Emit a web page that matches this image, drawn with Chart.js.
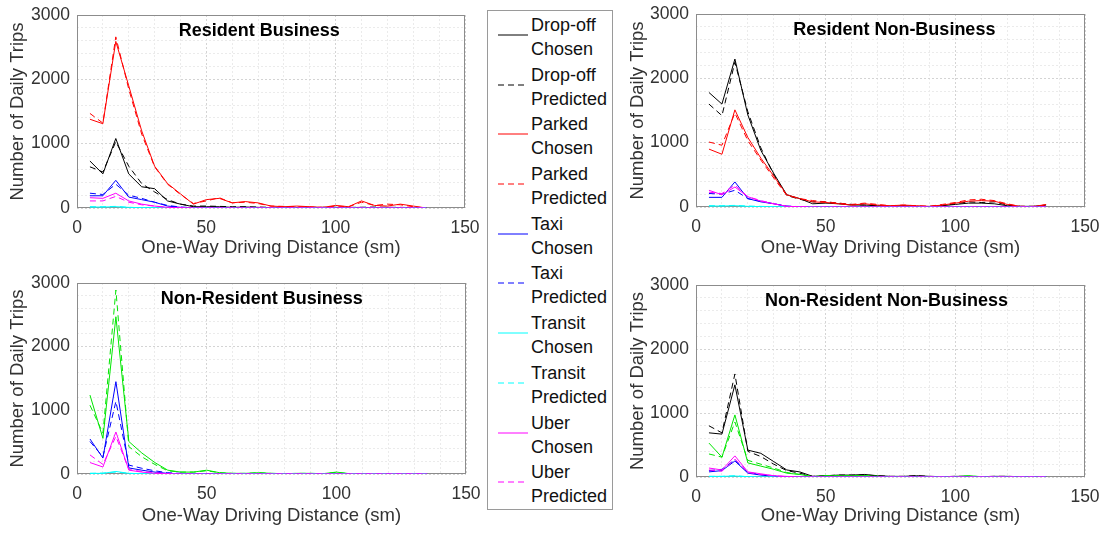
<!DOCTYPE html>
<html>
<head>
<meta charset="utf-8">
<script src="https://cdn.jsdelivr.net/npm/chart.js@4"></script>
<style>
  body { margin: 0; background: #fff; width: 1107px; height: 533px; overflow: hidden; position: relative;
         font-family: "Liberation Sans", Arial, sans-serif; }
  .panel { position: absolute; width: 480px; height: 265px; }
  .panel.right { width: 487px; }
  #legend { position: absolute; left: 487px; top: 10px; width: 124px; height: 496px; border: 1px solid #9a9a9a;
            padding-top: 2px; box-sizing: content-box; background: #fff; }
  .entry { position: relative; height: 49.7px; }
  .entry span { position: absolute; left: 43px; font-size: 18px; line-height: 24px; color: #111; white-space: nowrap; }
  .entry svg { position: absolute; left: 10px; top: 21px; }
</style>
</head>
<body>
<div class="panel" style="left:0;top:0"><canvas id="rb"></canvas></div>
<div class="panel right" style="left:620px;top:0"><canvas id="rnb"></canvas></div>
<div class="panel" style="left:0;top:268px"><canvas id="nrb"></canvas></div>
<div class="panel right" style="left:620px;top:268px"><canvas id="nrnb"></canvas></div>
<div id="legend"></div>
<script>
// one-way driving distance bins (sm)
const distances = [5, 10, 15, 20, 25, 30, 35, 40, 45, 50, 55, 60, 65, 70, 75, 80, 85, 90, 95, 100, 105, 110, 115, 120, 125, 130, 135];
const xTickLabels = [0, 50, 100, 150];
const yTickLabels = [0, 1000, 2000, 3000];

const legendModes = ['Drop-off', 'Parked', 'Taxi', 'Transit', 'Uber'];
const legendStatuses = ['Chosen', 'Predicted'];

// Resident Business
const rbDropChosen       = [730, 530, 1080, 530, 330, 300, 110, 60, 20, 20, 20, 10, 15, 10, 5, 5, 5, 5, 5, 10, 5, 10, 5, 10, 5, 5, 0];
const rbDropPredicted    = [640, 560, 1030, 650, 380, 250, 130, 60, 30, 30, 25, 20, 20, 15, 10, 10, 10, 10, 10, 10, 10, 10, 15, 10, 10, 5, 0];
const rbParkChosen       = [1380, 1310, 2590, 1900, 1200, 650, 380, 220, 60, 130, 150, 80, 100, 80, 30, 20, 30, 20, 10, 40, 20, 110, 40, 30, 60, 30, 0];
const rbParkPredicted    = [1470, 1320, 2660, 1850, 1150, 640, 370, 210, 70, 110, 160, 80, 90, 70, 30, 25, 20, 15, 10, 30, 20, 90, 40, 60, 50, 20, 0];
const rbTaxiChosen       = [190, 190, 430, 170, 130, 90, 30, 10, 5, 5, 5, 0, 0, 0, 0, 0, 0, 0, 0, 0, 0, 0, 0, 0, 0, 0, 0];
const rbTaxiPredicted    = [230, 210, 370, 200, 150, 90, 40, 15, 5, 5, 5, 5, 0, 0, 0, 0, 0, 0, 0, 0, 0, 0, 0, 0, 0, 0, 0];
const rbTransitChosen    = [15, 15, 20, 10, 5, 5, 0, 0, 0, 0, 0, 0, 0, 0, 0, 0, 0, 0, 0, 0, 0, 0, 0, 0, 0, 0, 0];
const rbTransitPredicted = [20, 20, 25, 10, 5, 5, 0, 0, 0, 0, 0, 0, 0, 0, 0, 0, 0, 0, 0, 0, 0, 0, 0, 0, 0, 0, 0];
const rbUberChosen       = [160, 150, 230, 110, 60, 30, 10, 5, 0, 0, 0, 0, 0, 0, 0, 0, 0, 0, 0, 0, 0, 0, 0, 0, 0, 0, 0];
const rbUberPredicted    = [110, 110, 180, 90, 50, 30, 10, 5, 0, 0, 0, 0, 0, 0, 0, 0, 0, 0, 0, 0, 0, 0, 0, 0, 0, 0, 0];

// Resident Non-Business
const rnbDropChosen       = [1780, 1600, 2300, 1430, 880, 520, 190, 130, 50, 60, 50, 30, 30, 20, 10, 20, 10, 5, 20, 40, 60, 60, 50, 20, 10, 10, 30];
const rnbDropPredicted    = [1600, 1420, 2250, 1480, 920, 500, 180, 120, 80, 80, 60, 40, 30, 20, 10, 20, 10, 10, 20, 50, 80, 70, 80, 30, 10, 10, 20];
const rnbParkChosen       = [900, 820, 1510, 1080, 760, 480, 190, 130, 80, 70, 50, 30, 50, 30, 20, 30, 20, 10, 30, 60, 90, 100, 90, 40, 10, 5, 40];
const rnbParkPredicted    = [1010, 960, 1460, 1030, 730, 450, 180, 130, 100, 80, 60, 40, 60, 40, 20, 30, 20, 10, 40, 70, 110, 120, 100, 50, 10, 10, 30];
const rnbTaxiChosen       = [150, 150, 390, 130, 80, 50, 10, 5, 0, 0, 0, 0, 0, 0, 0, 0, 0, 0, 0, 0, 0, 0, 0, 0, 0, 0, 0];
const rnbTaxiPredicted    = [210, 200, 260, 130, 90, 50, 15, 5, 0, 0, 0, 0, 0, 0, 0, 0, 0, 0, 0, 0, 0, 0, 0, 0, 0, 0, 0];
const rnbTransitChosen    = [15, 15, 20, 10, 5, 5, 0, 0, 0, 0, 0, 0, 0, 0, 0, 0, 0, 0, 0, 0, 0, 0, 0, 0, 0, 0, 0];
const rnbTransitPredicted = [20, 20, 25, 15, 10, 5, 0, 0, 0, 0, 0, 0, 0, 0, 0, 0, 0, 0, 0, 0, 0, 0, 0, 0, 0, 0, 0];
const rnbUberChosen       = [260, 190, 310, 160, 90, 50, 10, 5, 0, 0, 0, 0, 0, 0, 0, 0, 0, 0, 0, 0, 0, 0, 0, 0, 0, 0, 0];
const rnbUberPredicted    = [230, 210, 340, 160, 100, 50, 10, 5, 0, 0, 0, 0, 0, 0, 0, 0, 0, 0, 0, 0, 0, 0, 0, 0, 0, 0, 0];

// Non-Resident Business
const nrbRentalChosen     = [1240, 560, 2470, 510, 330, 180, 60, 30, 30, 60, 20, 10, 10, 20, 10, 5, 10, 10, 5, 30, 5, 0, 0, 0, 0, 0, 0];
const nrbRentalPredicted  = [1080, 640, 2890, 430, 270, 150, 50, 30, 30, 50, 20, 10, 10, 20, 10, 5, 10, 10, 5, 25, 5, 0, 0, 0, 0, 0, 0];
const nrbTaxiChosen       = [550, 250, 1450, 95, 60, 30, 10, 5, 5, 5, 0, 0, 0, 0, 0, 0, 0, 0, 0, 0, 0, 0, 0, 0, 0, 0, 0];
const nrbTaxiPredicted    = [510, 270, 1140, 140, 90, 50, 20, 10, 5, 5, 0, 0, 0, 0, 0, 0, 0, 0, 0, 0, 0, 0, 0, 0, 0, 0, 0];
const nrbTransitChosen    = [10, 10, 40, 10, 5, 0, 0, 0, 0, 0, 0, 0, 0, 0, 0, 0, 0, 0, 0, 0, 0, 0, 0, 0, 0, 0, 0];
const nrbTransitPredicted = [10, 15, 30, 10, 5, 0, 0, 0, 0, 0, 0, 0, 0, 0, 0, 0, 0, 0, 0, 0, 0, 0, 0, 0, 0, 0, 0];
const nrbUberChosen       = [180, 110, 660, 60, 30, 10, 5, 0, 0, 0, 0, 0, 0, 0, 0, 0, 0, 0, 0, 0, 0, 0, 0, 0, 0, 0, 0];
const nrbUberPredicted    = [300, 150, 590, 70, 40, 20, 5, 0, 0, 0, 0, 0, 0, 0, 0, 0, 0, 0, 0, 0, 0, 0, 0, 0, 0, 0, 0];

// Non-Resident Non-Business
const nrnbDropChosen       = [690, 670, 1440, 420, 370, 240, 110, 80, 10, 20, 30, 30, 40, 20, 10, 10, 20, 10, 5, 10, 10, 5, 10, 10, 5, 5, 0];
const nrnbDropPredicted    = [800, 690, 1610, 400, 320, 200, 100, 60, 10, 20, 30, 30, 30, 20, 10, 10, 20, 10, 5, 10, 10, 5, 10, 10, 5, 5, 0];
const nrnbRentalChosen     = [530, 310, 970, 220, 170, 120, 60, 40, 5, 20, 20, 20, 20, 10, 5, 5, 5, 5, 5, 5, 20, 5, 5, 0, 0, 0, 0];
const nrnbRentalPredicted  = [360, 310, 860, 260, 200, 140, 70, 40, 5, 20, 20, 20, 20, 10, 5, 5, 5, 5, 5, 5, 15, 5, 5, 0, 0, 0, 0];
const nrnbTaxiChosen       = [80, 100, 250, 60, 30, 10, 5, 0, 0, 0, 0, 0, 0, 0, 0, 0, 0, 0, 0, 0, 0, 0, 0, 0, 0, 0, 0];
const nrnbTaxiPredicted    = [100, 120, 270, 70, 40, 15, 5, 0, 0, 0, 0, 0, 0, 0, 0, 0, 0, 0, 0, 0, 0, 0, 0, 0, 0, 0, 0];
const nrnbTransitChosen    = [10, 10, 15, 5, 0, 0, 0, 0, 0, 0, 0, 0, 0, 0, 0, 0, 0, 0, 0, 0, 0, 0, 0, 0, 0, 0, 0];
const nrnbTransitPredicted = [10, 10, 20, 5, 0, 0, 0, 0, 0, 0, 0, 0, 0, 0, 0, 0, 0, 0, 0, 0, 0, 0, 0, 0, 0, 0, 0];
const nrnbUberChosen       = [140, 110, 330, 80, 50, 20, 10, 0, 0, 0, 0, 0, 0, 0, 0, 0, 0, 0, 0, 0, 0, 0, 0, 0, 0, 0, 0];
const nrnbUberPredicted    = [110, 90, 280, 70, 40, 20, 5, 0, 0, 0, 0, 0, 0, 0, 0, 0, 0, 0, 0, 0, 0, 0, 0, 0, 0, 0, 0];

const modeColors = {
  'Drop-off': '#000000',
  'Parked': '#ff0000',
  'Taxi': '#0000ff',
  'Transit': '#00ffff',
  'Uber': '#ff00ff',
  'Rental': '#00e600'
};
const dashFor = status => status === 'Predicted' ? [6, 4] : [];

const panels = [
  { id: 'rb', title: 'Resident Business', titleAt: 0.47, padTop: 15, padRight: 15, yWidth: 77, xHeight: 57,
    series: [
      ['Drop-off', 'Chosen', rbDropChosen], ['Drop-off', 'Predicted', rbDropPredicted],
      ['Parked', 'Chosen', rbParkChosen], ['Parked', 'Predicted', rbParkPredicted],
      ['Taxi', 'Chosen', rbTaxiChosen], ['Taxi', 'Predicted', rbTaxiPredicted],
      ['Transit', 'Chosen', rbTransitChosen], ['Transit', 'Predicted', rbTransitPredicted],
      ['Uber', 'Chosen', rbUberChosen], ['Uber', 'Predicted', rbUberPredicted]
    ] },
  { id: 'rnb', title: 'Resident Non-Business', titleAt: 0.51, padTop: 14, padRight: 22, yWidth: 76, xHeight: 58,
    series: [
      ['Drop-off', 'Chosen', rnbDropChosen], ['Drop-off', 'Predicted', rnbDropPredicted],
      ['Parked', 'Chosen', rnbParkChosen], ['Parked', 'Predicted', rnbParkPredicted],
      ['Taxi', 'Chosen', rnbTaxiChosen], ['Taxi', 'Predicted', rnbTaxiPredicted],
      ['Transit', 'Chosen', rnbTransitChosen], ['Transit', 'Predicted', rnbTransitPredicted],
      ['Uber', 'Chosen', rnbUberChosen], ['Uber', 'Predicted', rnbUberPredicted]
    ] },
  { id: 'nrb', title: 'Non-Resident Business', titleAt: 0.475, padTop: 15, padRight: 14, yWidth: 77, xHeight: 59,
    series: [
      ['Rental', 'Chosen', nrbRentalChosen], ['Rental', 'Predicted', nrbRentalPredicted],
      ['Taxi', 'Chosen', nrbTaxiChosen], ['Taxi', 'Predicted', nrbTaxiPredicted],
      ['Transit', 'Chosen', nrbTransitChosen], ['Transit', 'Predicted', nrbTransitPredicted],
      ['Uber', 'Chosen', nrbUberChosen], ['Uber', 'Predicted', nrbUberPredicted]
    ] },
  { id: 'nrnb', title: 'Non-Resident Non-Business', titleAt: 0.49, padTop: 17, padRight: 22, yWidth: 76, xHeight: 56,
    series: [
      ['Drop-off', 'Chosen', nrnbDropChosen], ['Drop-off', 'Predicted', nrnbDropPredicted],
      ['Rental', 'Chosen', nrnbRentalChosen], ['Rental', 'Predicted', nrnbRentalPredicted],
      ['Taxi', 'Chosen', nrnbTaxiChosen], ['Taxi', 'Predicted', nrnbTaxiPredicted],
      ['Transit', 'Chosen', nrnbTransitChosen], ['Transit', 'Predicted', nrnbTransitPredicted],
      ['Uber', 'Chosen', nrnbUberChosen], ['Uber', 'Predicted', nrnbUberPredicted]
    ] }
];

Chart.defaults.font.family = '"Liberation Sans", Arial, sans-serif';
Chart.defaults.color = '#333';

const MAJOR_GRID = '#d4d4d4';
const MINOR_GRID = '#ebebeb';

// axes box (all four sides) plus the bold title inside the plot area
const framePlugin = {
  id: 'frame',
  beforeDatasetsDraw(chart) {
    const { ctx, chartArea: a } = chart;
    ctx.save();
    ctx.strokeStyle = '#8c8c8c';
    ctx.lineWidth = 1;
    ctx.strokeRect(Math.round(a.left) + 0.5, Math.round(a.top) + 0.5,
                   Math.round(a.width) - 1, Math.round(a.height) - 1);
    ctx.restore();
  },
  afterDraw(chart, args, opts) {
    const { ctx, chartArea: a } = chart;
    ctx.save();
    ctx.font = 'bold 18px "Liberation Sans", Arial, sans-serif';
    ctx.fillStyle = '#000';
    ctx.textAlign = 'center';
    ctx.textBaseline = 'middle';
    ctx.fillText(opts.text, a.left + a.width * opts.at, a.top + 16);
    ctx.restore();
  }
};

function buildChart(p) {
  const datasets = p.series.map(([mode, status, values]) => ({
    label: mode + ' ' + status,
    data: values.map((v, i) => ({ x: distances[i], y: v })),
    borderColor: modeColors[mode],
    borderWidth: 1,
    borderDash: dashFor(status),
    pointRadius: 0,
    tension: 0,
    fill: false
  })).reverse(); // later series sit on top

  new Chart(document.getElementById(p.id), {
    type: 'line',
    data: { datasets },
    plugins: [framePlugin],
    options: {
      responsive: true,
      maintainAspectRatio: false,
      animation: false,
      events: [],
      layout: { padding: { top: p.padTop, right: p.padRight, left: 0, bottom: 0 } },
      plugins: {
        legend: { display: false },
        tooltip: { enabled: false },
        frame: { text: p.title, at: p.titleAt }
      },
      scales: {
        x: {
          type: 'linear', min: 0, max: 150,
          afterFit: s => { s.height = p.xHeight; s.paddingLeft = 0; s.paddingRight = 0; },
          border: { display: false, dash: [2, 2] },
          grid: {
            drawTicks: false,
            lineWidth: 1,
            color: c => xTickLabels.includes(c.tick.value) ? MAJOR_GRID : MINOR_GRID
          },
          ticks: {
            stepSize: 10, autoSkip: false, maxRotation: 0, padding: 10,
            color: '#333', font: { size: 17.5 },
            callback: v => xTickLabels.includes(v) ? String(v) : ''
          },
          title: {
            display: true, text: 'One-Way Driving Distance (sm)', color: '#333',
            font: { size: 18.5 }, padding: { top: 0, bottom: 6 }
          }
        },
        y: {
          type: 'linear', min: 0, max: 3000,
          afterFit: s => { s.width = p.yWidth; s.paddingTop = 0; s.paddingBottom = 0; },
          border: { display: false, dash: [2, 2] },
          grid: {
            drawTicks: false,
            lineWidth: 1,
            color: c => yTickLabels.includes(c.tick.value) ? MAJOR_GRID : MINOR_GRID
          },
          ticks: {
            stepSize: 200, autoSkip: false, padding: 7,
            color: '#333', font: { size: 17.5 },
            callback: v => yTickLabels.includes(v) ? String(v) : ''
          },
          title: {
            display: true, text: 'Number of Daily Trips', color: '#333',
            font: { size: 18.5 }, padding: { top: 7, bottom: 0 }
          }
        }
      }
    }
  });
}

panels.forEach(buildChart);

// shared legend built from the mode / status lists
const legend = document.getElementById('legend');
legendModes.forEach(mode => {
  legendStatuses.forEach(status => {
    const entry = document.createElement('div');
    entry.className = 'entry';
    const dash = dashFor(status).join(',');
    entry.innerHTML =
      '<svg width="30" height="2"><line x1="0" y1="1" x2="30" y2="1" stroke="' + modeColors[mode] +
      '" stroke-width="1"' + (dash ? ' stroke-dasharray="' + dash + '"' : '') + '/></svg>' +
      '<span style="top:0">' + mode + '</span>' +
      '<span style="top:24px">' + status + '</span>';
    legend.appendChild(entry);
  });
});
</script>
</body>
</html>
